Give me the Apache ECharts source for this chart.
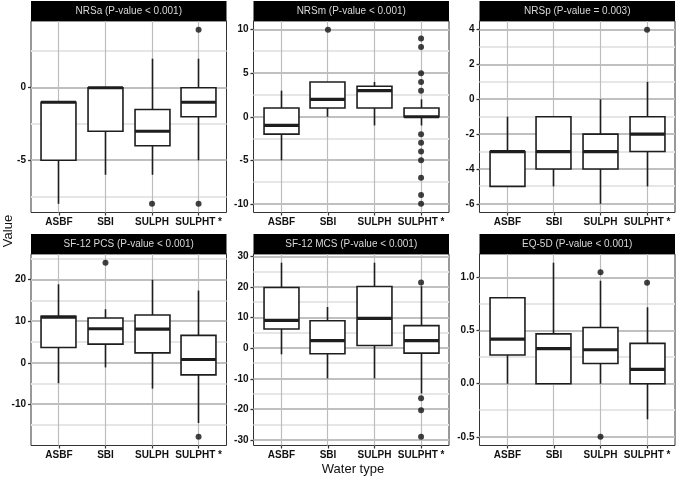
<!DOCTYPE html>
<html><head><meta charset="utf-8">
<script src="https://cdn.jsdelivr.net/npm/echarts@6/dist/echarts.min.js"></script>
<style>html,body{margin:0;padding:0;background:#fff}#c{width:676px;height:477px}</style>
</head><body><div id="c"></div>
<script>
const categories = ['ASBF', 'SBI', 'SULPH', 'SULPHT *'];
const panelTitles = ['NRSa (P-value < 0.001)', 'NRSm (P-value < 0.001)', 'NRSp (P-value = 0.003)',
  'SF-12 PCS (P-value < 0.001)', 'SF-12 MCS (P-value < 0.001)', 'EQ-5D (P-value < 0.001)'];
// box stats per category: [lower whisker, Q1, median, Q3, upper whisker]
const nrsaBoxes = [[-8, -5, -1, -1, -1], [-6, -3, 0, 0, 0], [-6, -4, -3, -1.5, 2], [-5, -2, -1, 0, 2]];
const nrsaOutliers = [[3, -8], [4, 4], [4, -8]];
const nrsmBoxes = [[-5, -2, -1, 1, 3], [0, 1, 2, 4, 4], [-1, 1, 3, 3.5, 4], [-1, 0, 0, 1, 2]];
const nrsmOutliers = [[2, 10], [4, 9], [4, 8], [4, 5], [4, 4], [4, 3], [4, -2], [4, -3], [4, -4], [4, -5], [4, -7], [4, -9], [4, -10]];
const nrspBoxes = [[-5, -5, -3, -3, -1], [-5, -4, -3, -1, -1], [-6, -4, -3, -2, 0], [-5, -3, -2, -1, 1]];
const nrspOutliers = [[4, 4]];
const pcsBoxes = [[-4.9, 3.7, 11, 11.2, 18.9], [-1.1, 4.5, 8.2, 10.8, 12.9], [-6.2, 2.4, 8.1, 11.5, 20], [-14.5, -2.9, 0.8, 6.6, 17.4]];
const pcsOutliers = [[2, 24.1], [4, -17.8]];
const mcsBoxes = [[-2, 6.3, 9.1, 19.9, 28], [-9.9, -1.8, 2.5, 9, 13.5], [-9.9, 0.9, 9.8, 20.2, 28], [-14.8, -1.6, 2.5, 7.4, 20.3]];
const mcsOutliers = [[4, 21.5], [4, -16.4], [4, -20.3], [4, -29]];
const eqBoxes = [[0, 0.27, 0.42, 0.81, 0.81], [0, 0, 0.33, 0.47, 1.14], [0, 0.19, 0.32, 0.53, 0.97], [-0.335, 0, 0.135, 0.38, 0.72]];
const eqOutliers = [[3, 1.05], [3, -0.5], [4, 0.95]];
// y tick labels (major) and minor grid positions
const nrsaTicks = [-5, 0], nrsaMinor = [-7.5, -2.5, 2.5];
const nrsmTicks = [-10, -5, 0, 5, 10], nrsmMinor = [-7.5, -2.5, 2.5, 7.5];
const nrspTicks = [-6, -4, -2, 0, 2, 4], nrspMinor = [-5, -3, -1, 1, 3];
const pcsTicks = [-10, 0, 10, 20], pcsMinor = [-15, -5, 5, 15, 25];
const mcsTicks = [-30, -20, -10, 0, 10, 20, 30], mcsMinor = [-25, -15, -5, 5, 15, 25];
const eqTicks = [-0.5, 0, 0.5, 1.0], eqMinor = [-0.25, 0.25, 0.75];
const xPositions = [1, 2, 3, 4];

const panels = [
  { boxes: nrsaBoxes, out: nrsaOutliers, ticks: nrsaTicks, minor: nrsaMinor, dec: 0 },
  { boxes: nrsmBoxes, out: nrsmOutliers, ticks: nrsmTicks, minor: nrsmMinor, dec: 0 },
  { boxes: nrspBoxes, out: nrspOutliers, ticks: nrspTicks, minor: nrspMinor, dec: 0 },
  { boxes: pcsBoxes, out: pcsOutliers, ticks: pcsTicks, minor: pcsMinor, dec: 0 },
  { boxes: mcsBoxes, out: mcsOutliers, ticks: mcsTicks, minor: mcsMinor, dec: 0 },
  { boxes: eqBoxes, out: eqOutliers, ticks: eqTicks, minor: eqMinor, dec: 1 }
];

const FONT = "'Liberation Sans', Arial, Helvetica, sans-serif";
const lefts = [31, 253.5, 479.5], tops = [21, 254], W = 195.5, H = 191.5, STRIP = 20;
const XMIN = 0.4, XMAX = 4.6;
const grids = [], xAxes = [], yAxes = [], series = [], graphics = [];

function crisp(v) { return Math.round(v - 0.5) + 0.5; }

// kind: 0 = minor horizontal, 1 = major horizontal, 2 = vertical
function makeGridRenderer(ymin, ymax) {
  return function (params, api) {
    const v = api.value(0), kind = api.value(1);
    if (kind === 2) {
      const top = api.coord([v, ymax]), bot = api.coord([v, ymin]);
      const x = crisp(top[0]);
      return { type: 'rect', shape: { x: x - 0.6, y: top[1], width: 1.2, height: bot[1] - top[1] },
        style: { fill: '#bdbdbd' } };
    }
    const p1 = api.coord([XMIN, v]), p2 = api.coord([XMAX, v]);
    const yTop = Math.round(p1[1] - 1);
    return { type: 'rect', shape: { x: p1[0], y: yTop, width: p2[0] - p1[0], height: 2 },
      style: { fill: kind === 1 ? '#c0c0c0' : '#e6e6e6' } };
  };
}

function renderBox(params, api) {
  const x = crisp(api.coord([api.value(0), api.value(3)])[0]);
  const y = k => api.coord([api.value(0), api.value(k)])[1];
  const lo = y(1), q1 = y(2), md = y(3), q3 = y(4), hi = y(5);
  const half = api.size([0.75, 0])[0] / 2;
  const col = '#1e1e1e', lw = 1.6;
  return { type: 'group', children: [
    { type: 'line', shape: { x1: x, y1: lo, x2: x, y2: q1 }, style: { stroke: col, lineWidth: lw } },
    { type: 'line', shape: { x1: x, y1: q3, x2: x, y2: hi }, style: { stroke: col, lineWidth: lw } },
    { type: 'rect', shape: { x: x - half, y: q3, width: half * 2, height: q1 - q3 }, style: { fill: '#fff', stroke: col, lineWidth: lw } },
    { type: 'line', shape: { x1: x - half, y1: md, x2: x + half, y2: md }, style: { stroke: col, lineWidth: 3.2 } }
  ]};
}

panels.forEach((p, i) => {
  const left = lefts[i % 3], top = tops[Math.floor(i / 3)];
  let dmin = Infinity, dmax = -Infinity;
  p.boxes.forEach(b => b.forEach(v => { dmin = Math.min(dmin, v); dmax = Math.max(dmax, v); }));
  p.out.forEach(o => { dmin = Math.min(dmin, o[1]); dmax = Math.max(dmax, o[1]); });
  const pad = (dmax - dmin) * 0.05;
  const ymin = dmin - pad, ymax = dmax + pad;
  grids.push({ left: left, top: top, width: W, height: H, show: true, backgroundColor: '#fff', borderColor: '#333', borderWidth: 1 });
  xAxes.push({
    gridIndex: i, type: 'value', min: XMIN, max: XMAX, position: 'bottom',
    axisLine: { show: false, onZero: false },
    axisTick: { show: true, length: 3, customValues: xPositions, lineStyle: { color: '#333', width: 1.2 } },
    axisLabel: { customValues: xPositions, formatter: v => categories[Math.round(v) - 1], color: '#111', fontSize: 10, fontWeight: 'bold', fontFamily: FONT, margin: 5 },
    splitLine: { show: false }
  });
  yAxes.push({
    gridIndex: i, type: 'value', min: ymin, max: ymax, position: 'left',
    axisLine: { show: false, onZero: false },
    axisTick: { show: true, length: 3, customValues: p.ticks, lineStyle: { color: '#333', width: 1.3 } },
    axisLabel: { customValues: p.ticks, formatter: v => v.toFixed(p.dec), color: '#111', fontSize: 10, fontWeight: 'bold', fontFamily: FONT, margin: 5 },
    splitLine: { show: false }
  });
  const gridData = p.minor.map(v => [v, 0]).concat(p.ticks.map(v => [v, 1])).concat(xPositions.map(v => [v, 2]));
  series.push({
    type: 'custom', xAxisIndex: i, yAxisIndex: i, silent: true,
    renderItem: makeGridRenderer(ymin, ymax),
    encode: { x: -1, y: -1 },
    dimensions: ['v', 'kind'],
    data: gridData
  });
  series.push({
    type: 'custom', xAxisIndex: i, yAxisIndex: i, silent: true,
    renderItem: renderBox,
    encode: { x: 0, y: [1, 2, 3, 4, 5] },
    data: p.boxes.map((b, k) => [xPositions[k]].concat(b))
  });
  series.push({
    type: 'scatter', xAxisIndex: i, yAxisIndex: i, z: 4,
    symbolSize: 6, itemStyle: { color: '#111' },
    data: p.out, silent: true
  });
  graphics.push({ type: 'rect', shape: { x: left, y: top - STRIP, width: W, height: STRIP }, style: { fill: '#000' } });
  graphics.push({ type: 'text', x: left + W / 2, y: top - STRIP / 2, style: { text: panelTitles[i], fill: '#d8d8d8', font: '10px ' + FONT, align: 'center', verticalAlign: 'middle' } });
});

graphics.push({ type: 'text', x: 8, y: 231, rotation: Math.PI / 2, style: { text: 'Value', fill: '#111', font: '13px ' + FONT, align: 'center', verticalAlign: 'middle' } });
graphics.push({ type: 'text', x: 353, y: 469, style: { text: 'Water type', fill: '#111', font: '13px ' + FONT, align: 'center', verticalAlign: 'middle' } });

const chart = echarts.init(document.getElementById('c'), null, { renderer: 'canvas' });
chart.setOption({
  animation: false,
  backgroundColor: '#fff',
  grid: grids, xAxis: xAxes, yAxis: yAxes, series: series,
  graphic: graphics
});
</script>
</body></html>
